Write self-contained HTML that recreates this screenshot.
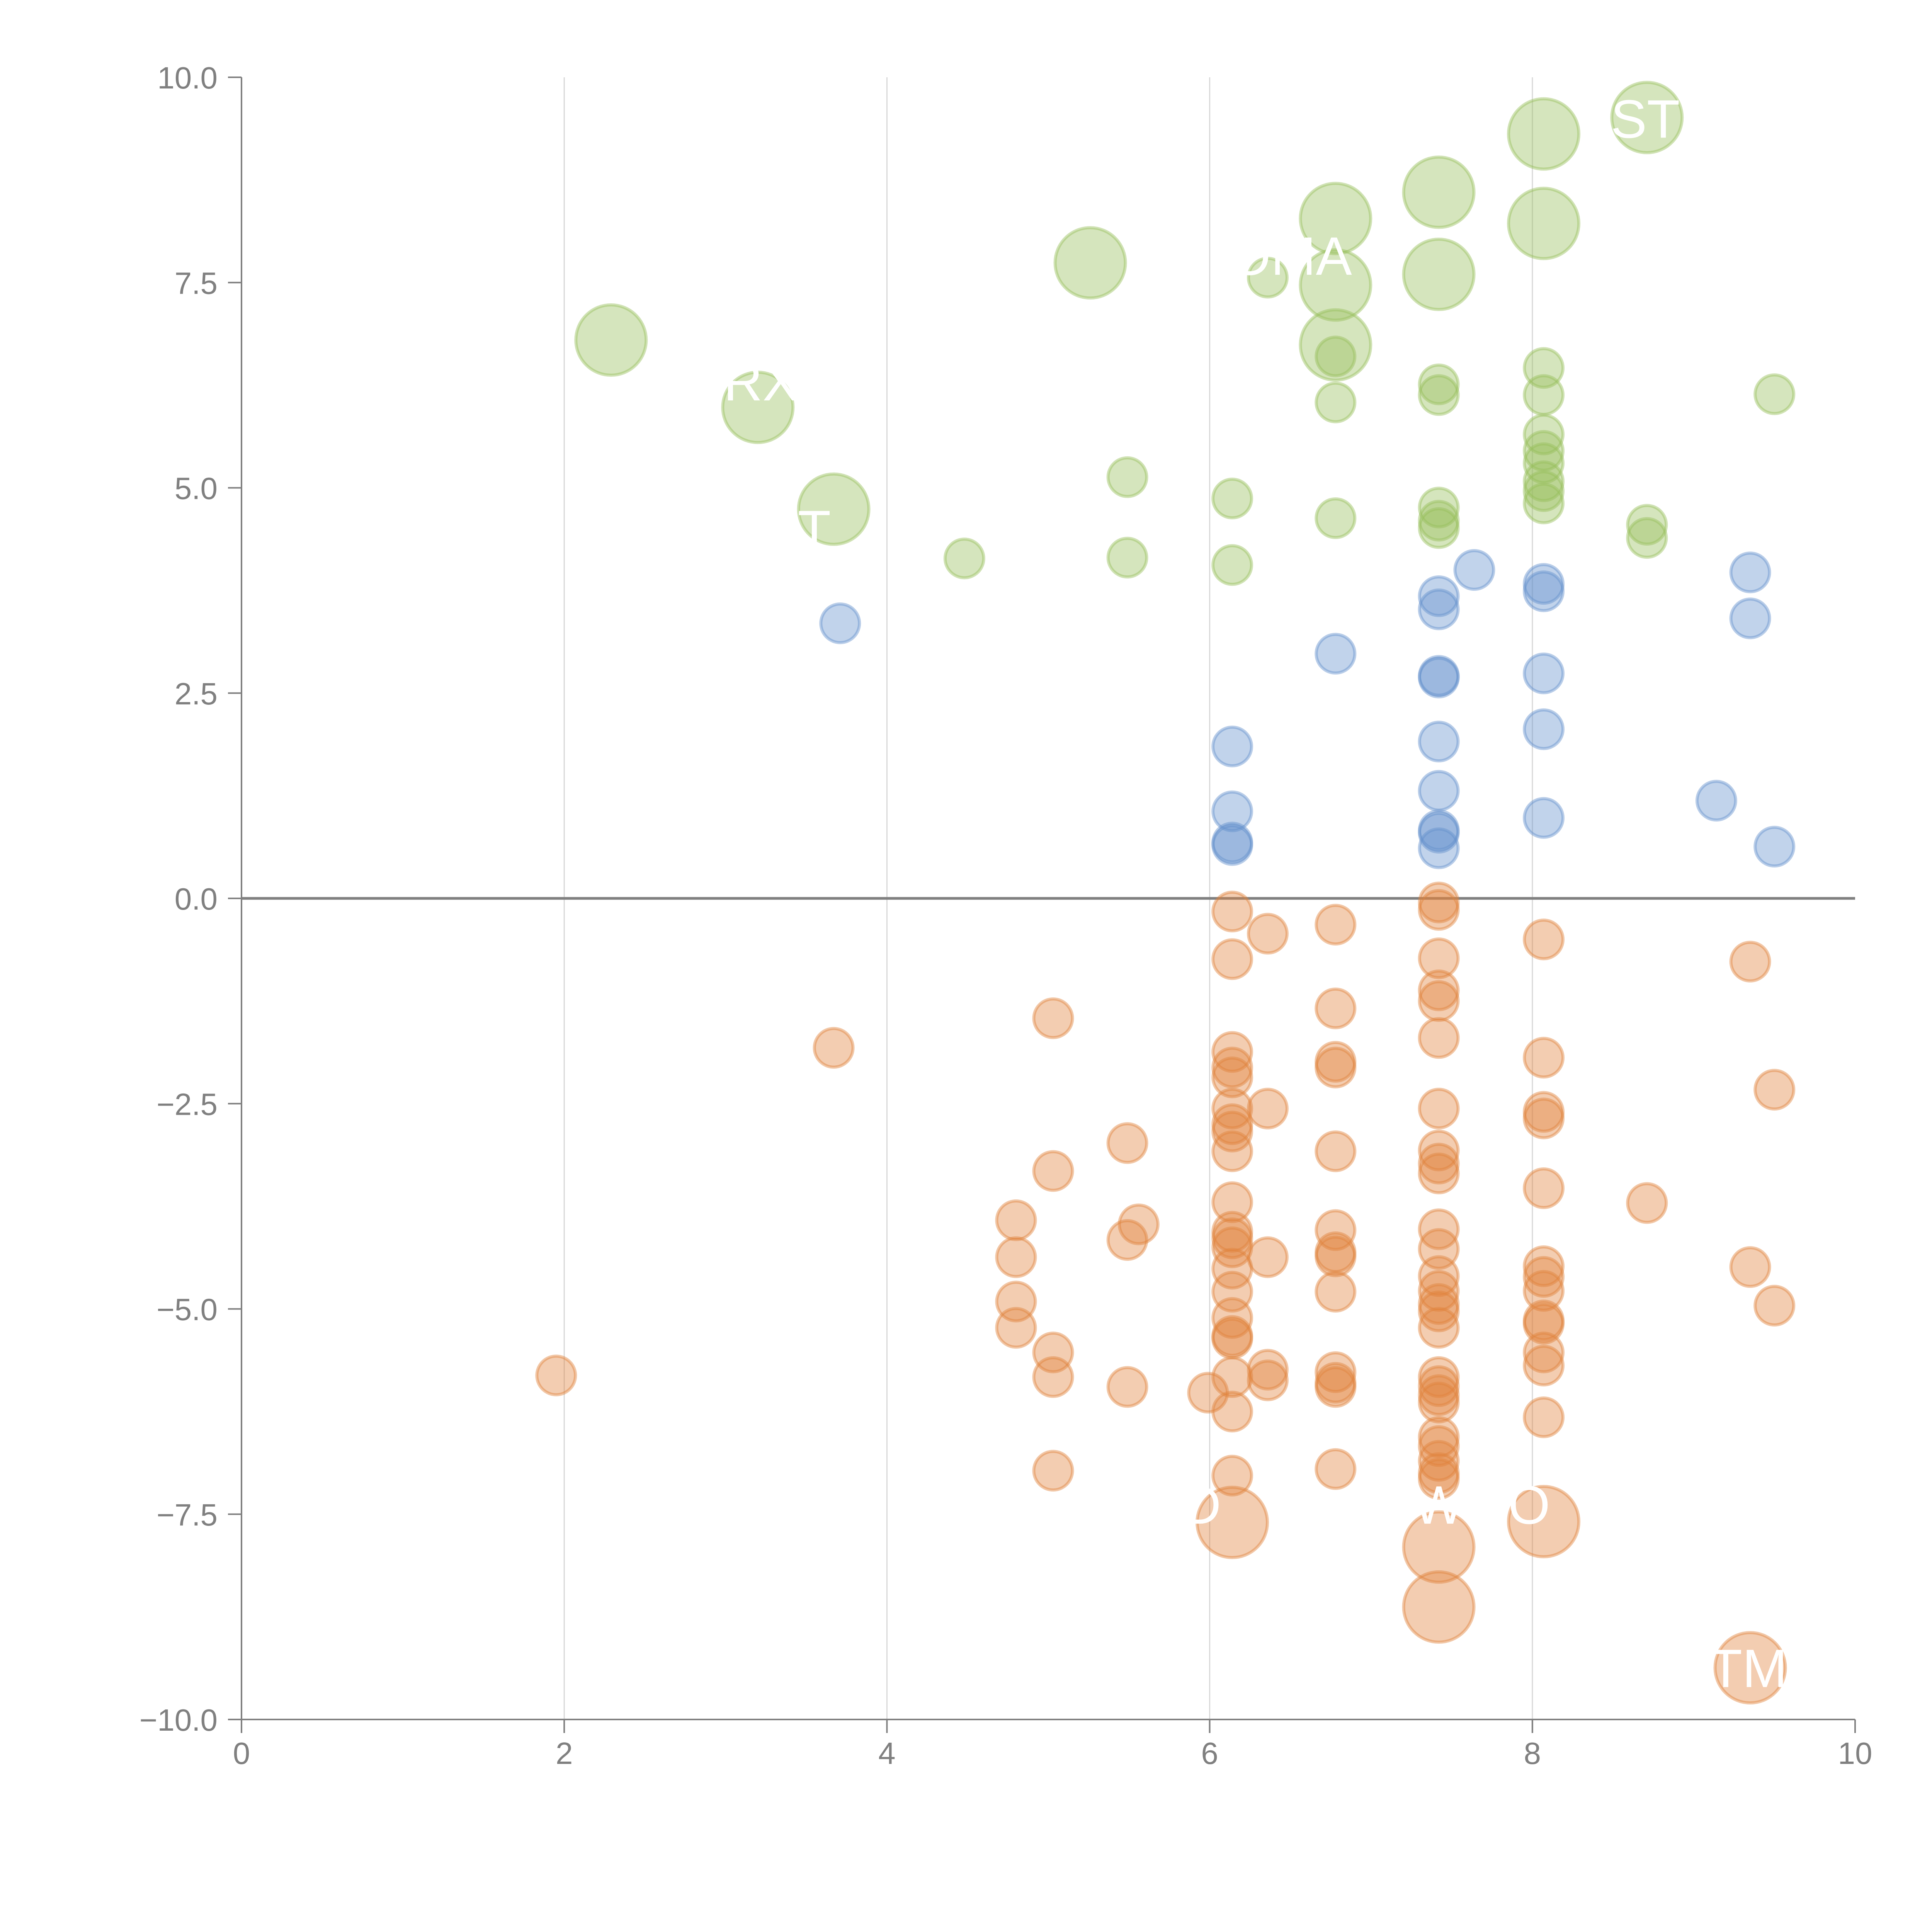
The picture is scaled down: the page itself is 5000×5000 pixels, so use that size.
<!DOCTYPE html>
<html><head><meta charset="utf-8"><style>
html,body{margin:0;padding:0;background:#fff;}
svg{display:block;}
text{font-family:"Liberation Sans",Arial,sans-serif;}
</style></head><body>
<svg id="chart" width="5000" height="5000" viewBox="0 0 5000 5000" xmlns="http://www.w3.org/2000/svg">
<g id="grid"></g>
<g id="axes"></g>
<g id="marks"></g>
<g id="labels"></g>
</svg>
<script>
const xTicks=[0,2,4,6,8,10];
const yTicks=[-10,-7.5,-5,-2.5,0,2.5,5,7.5,10];
const yTickLabels=["\u221210.0","\u22127.5","\u22125.0","\u22122.5","0.0","2.5","5.0","7.5","10.0"];
const greenBigX=[8.07,8.71,7.42,6.78,8.07,5.26,6.78,7.42,2.29,6.78,3.20,3.67];
const greenBigY=[9.31,9.51,8.60,8.28,8.22,7.74,7.47,7.60,6.80,6.74,5.98,4.74];
const greenX=[6.36,6.78,6.78,7.42,7.42,8.07,8.07,8.07,8.07,8.07,8.07,8.07,8.07,9.50,5.49,6.14,7.42,7.42,7.42,6.78,8.71,8.71,4.48,5.49,6.14];
const greenY=[7.56,6.60,6.04,6.26,6.13,6.46,6.13,5.65,5.45,5.30,5.08,4.96,4.81,6.14,5.13,4.87,4.76,4.60,4.51,4.63,4.55,4.39,4.14,4.15,4.06];
const blueX=[3.71,7.64,7.42,7.42,8.07,8.07,9.35,9.35,6.78,7.42,7.42,8.07,7.42,8.07,6.14,7.42,6.14,8.07,9.14,7.42,7.42,6.14,6.14,7.42,9.50];
const blueY=[3.35,4.00,3.68,3.52,3.83,3.74,3.97,3.41,2.98,2.71,2.69,2.74,1.91,2.06,1.85,1.31,1.06,0.98,1.19,0.83,0.80,0.68,0.65,0.61,0.63];
const orangeX=[6.14,6.36,6.78,7.42,7.42,8.07,6.14,7.42,7.42,7.42,7.42,6.78,5.03,3.67,9.35,6.14,6.14,6.14,6.78,6.78,8.07,9.50,6.36,6.14,6.14,6.14,6.14,7.42,8.07,8.07,5.49,6.78,7.42,7.42,7.42,5.03,8.07,6.14,8.71,4.80,5.56,6.14,6.14,6.14,6.78,7.42,7.42,5.49,4.80,6.36,6.78,6.78,8.07,8.07,8.07,7.42,7.42,7.42,7.42,7.42,6.14,6.14,6.78,9.35,9.50,4.80,4.80,6.14,6.14,6.14,8.07,8.07,8.07,8.07,5.03,5.03,1.95,5.49,5.99,6.14,6.36,6.36,6.78,6.78,6.78,7.42,7.42,7.42,7.42,6.14,8.07,7.42,7.42,7.42,7.42,7.42,6.78,6.14,5.03];
const orangeY=[-0.16,-0.43,-0.32,-0.05,-0.14,-0.50,-0.74,-0.73,-1.12,-1.25,-1.70,-1.34,-1.46,-1.82,-0.77,-1.87,-2.06,-2.18,-1.99,-2.06,-1.94,-2.33,-2.56,-2.56,-2.75,-2.84,-3.08,-2.56,-2.60,-2.68,-2.98,-3.08,-3.07,-3.23,-3.35,-3.32,-3.53,-3.70,-3.71,-3.92,-3.97,-4.06,-4.14,-4.25,-4.04,-4.03,-4.27,-4.16,-4.37,-4.37,-4.31,-4.36,-4.48,-4.61,-4.78,-4.60,-4.78,-4.94,-5.03,-5.23,-4.51,-4.79,-4.79,-4.49,-4.96,-4.91,-5.23,-5.11,-5.33,-5.36,-5.14,-5.18,-5.53,-5.69,-5.53,-5.83,-5.81,-5.95,-6.02,-5.83,-5.74,-5.87,-5.77,-5.90,-5.95,-5.83,-5.94,-6.05,-6.14,-6.25,-6.32,-6.56,-6.67,-6.85,-7.00,-7.07,-6.95,-7.03,-6.97];
const orangeBigX=[6.14,8.07,7.42,7.42,9.35];
const orangeBigY=[-7.60,-7.59,-7.90,-8.63,-9.37];
const labelText=["ST","TMX","W","O","D","OMA","RX","T"];
const labelX=[8.7,9.45,7.42,7.98,5.95,6.5,3.22,3.55];
const labelY=[9.5,-9.37,-7.38,-7.38,-7.38,7.83,6.3,4.5];

const X0=625,X1=4801,Y0=4450,Y1=200;
const sx=v=>X0+(v-0)/(10-0)*(X1-X0);
const sy=v=>Y0-(v+10)/20*(Y0-Y1);
const NS="http://www.w3.org/2000/svg";
function mk(tag,parent,attrs){const e=document.createElementNS(NS,tag);for(const k in attrs)e.setAttribute(k,attrs[k]);parent.appendChild(e);return e;}
const grid=document.getElementById('grid'),axes=document.getElementById('axes'),marks=document.getElementById('marks'),labels=document.getElementById('labels');

xTicks.forEach(t=>{
  if(t>0&&t<10){const g=mk('line',grid,{x1:sx(t),x2:sx(t),y1:Y1,y2:Y0,stroke:'#d8d8d8','stroke-width':3});
  
  }
  const tk=mk('line',axes,{x1:sx(t),x2:sx(t),y1:Y0,y2:Y0+35,stroke:'#808080','stroke-width':4});
  
  
  const tx=mk('text',axes,{x:sx(t),y:Y0+115,'text-anchor':'middle','font-size':80,fill:'#808080'});
  tx.textContent=String(t);
  
  
});
yTicks.forEach((t,i)=>{
  const tk=mk('line',axes,{x1:X0-35,x2:X0,y1:sy(t),y2:sy(t),stroke:'#808080','stroke-width':4});
  
  
  const tx=mk('text',axes,{x:X0-62,y:sy(t)+29,'text-anchor':'end','font-size':80,fill:'#808080'});
  tx.textContent=yTickLabels[i];
  
  
});
const ya=mk('line',axes,{x1:X0,x2:X0,y1:Y1,y2:Y0,stroke:'#808080','stroke-width':4});


const xa=mk('line',axes,{x1:X0,x2:X1,y1:Y0,y2:Y0,stroke:'#808080','stroke-width':4});


const zl=mk('line',axes,{x1:X0,x2:X1,y1:sy(0),y2:sy(0),stroke:'#808080','stroke-width':7});



function series(xs,ys,r,col,name){
  xs.forEach((x,i)=>{
    const c=mk('circle',marks,{cx:sx(x),cy:sy(ys[i]),r:r,fill:col,'fill-opacity':0.4,stroke:col,'stroke-opacity':0.45,'stroke-width':8});
    
    
  });
}
const G='rgb(150,190,90)',B='rgb(100,145,205)',O='rgb(224,130,60)';
series(greenX,greenY,50,G,'positive-bubble');
series(blueX,blueY,50,B,'neutral-bubble');
series(orangeX,orangeY,50,O,'negative-bubble');
series(greenBigX,greenBigY,91,G,'positive-large-bubble');
series(orangeBigX,orangeBigY,91,O,'negative-large-bubble');
labelText.forEach((s,i)=>{
  const t=mk('text',labels,{x:sx(labelX[i]),y:sy(labelY[i])+50,'text-anchor':'middle','font-size':140,fill:'#ffffff'});
  t.textContent=s;
  
  
});
</script>
</body></html>
